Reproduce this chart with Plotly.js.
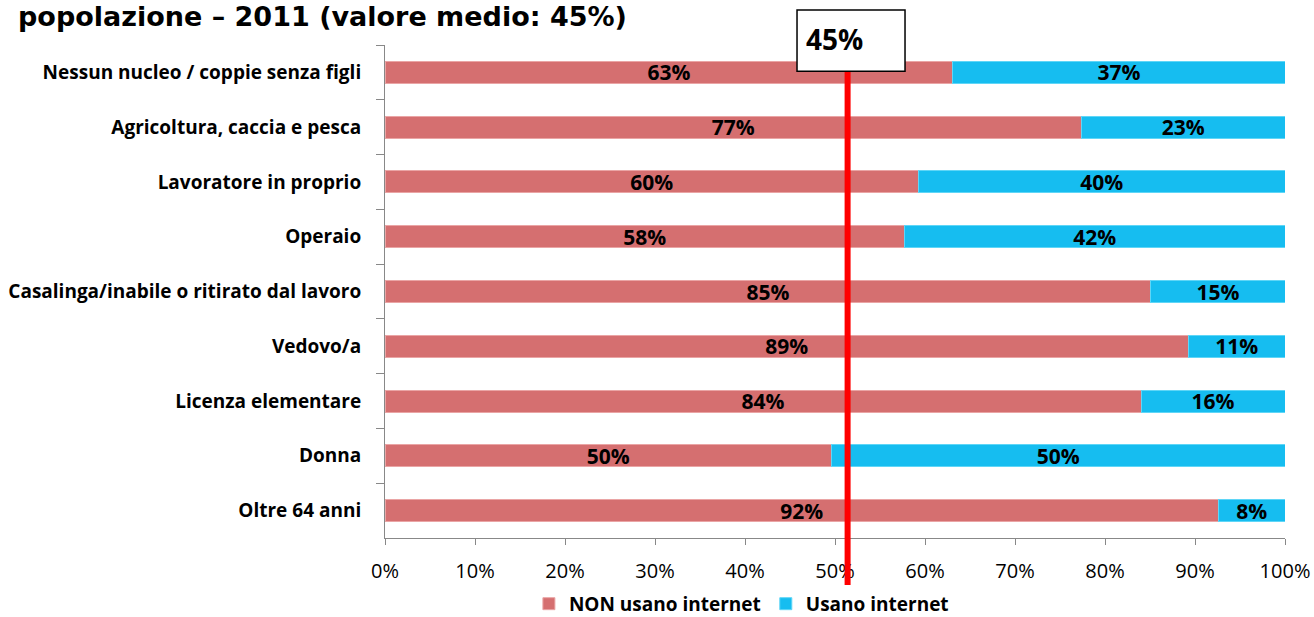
<!DOCTYPE html>
<html>
<head>
<meta charset="utf-8">
<script src="https://cdn.plot.ly/plotly-3.0.1.min.js"></script>
<style>html,body{margin:0;padding:0;background:#fff;}#chart{width:1314px;height:617px;}</style>
</head>
<body>
<div id="chart"></div>
<script>
const categories = [
  "Nessun nucleo / coppie senza figli",
  "Agricoltura, caccia e pesca",
  "Lavoratore in proprio",
  "Operaio",
  "Casalinga/inabile o ritirato dal lavoro",
  "Vedovo/a",
  "Licenza elementare",
  "Donna",
  "Oltre 64 anni"
];
const nonUsano = [63.1, 77.4, 59.3, 57.7, 85.1, 89.3, 84.0, 49.6, 92.6];
const usano    = [36.9, 22.6, 40.7, 42.3, 14.9, 10.7, 16.0, 50.4, 7.4];
const nonLabels = ["63%","77%","60%","58%","85%","89%","84%","50%","92%"];
const usLabels  = ["37%","23%","40%","42%","15%","11%","16%","50%","8%"];
const mediaLine = 51.4;
const mediaText = "45%";
const tickVals = [0,10,20,30,40,50,60,70,80,90,100];
const tickText = ["0%","10%","20%","30%","40%","50%","60%","70%","80%","90%","100%"];
const titleText = "popolazione – 2011 (valore medio: 45%)";

const FONT = "'Open Sans', Lato, sans-serif";
const labelFont = {family: FONT, size: 21, color: "#000", weight: 700};

const traces = [
  {
    type: "bar", orientation: "h", name: "NON usano internet",
    y: categories, x: nonUsano, text: nonLabels,
    textposition: "inside", insidetextanchor: "middle",
    textfont: labelFont, constraintext: "none",
    marker: {color: "#d56f70", line: {color: "#eaa5a5", width: 1}},
    width: 0.4, hoverinfo: "skip"
  },
  {
    type: "bar", orientation: "h", name: "Usano internet",
    y: categories, x: usano, text: usLabels,
    textposition: "inside", insidetextanchor: "middle",
    textfont: labelFont, constraintext: "none",
    marker: {color: "#16bdf0", line: {color: "#5fd6f7", width: 1}},
    width: 0.4, hoverinfo: "skip"
  }
];

const layout = {
  width: 1314, height: 617,
  margin: {l: 385, r: 29, t: 45, b: 79, autoexpand: false},
  barmode: "stack",
  paper_bgcolor: "#fff", plot_bgcolor: "#fff",
  showlegend: true,
  legend: {
    orientation: "h", x: 0.396, xanchor: "center", y: -0.095, yanchor: "top",
    font: {family: FONT, size: 19, color: "#000", weight: 700},
    traceorder: "normal", itemwidth: 30
  },
  xaxis: {
    range: [0, 100], tickvals: tickVals, ticktext: tickText,
    showgrid: false, zeroline: false,
    showline: true, linecolor: "#888", linewidth: 1,
    ticks: "outside", ticklen: 6, tickcolor: "#888",
    ticklabelstandoff: 9,
    tickfont: {family: FONT, size: 20, color: "#000"},
    fixedrange: true
  },
  yaxis: {
    type: "category", categoryorder: "array", categoryarray: categories,
    autorange: "reversed",
    showgrid: false, zeroline: false,
    showline: true, linecolor: "#888", linewidth: 1,
    ticks: "outside", ticklen: 8, tickcolor: "#888", tickson: "boundaries",
    ticklabelstandoff: 19,
    tickfont: {family: FONT, size: 19, color: "#000", weight: 700},
    fixedrange: true
  },
  shapes: [
    {type: "line", xref: "x", yref: "paper", x0: mediaLine, x1: mediaLine,
     y0: 0.949, y1: -0.132, line: {color: "#ff0000", width: 6}},
    {type: "rect", xref: "paper", yref: "paper", x0: 0.4578, x1: 0.5778,
     y0: 0.947, y1: 1.071, fillcolor: "#fff", line: {color: "#000", width: 1.5}}
  ],
  annotations: [
    {xref: "paper", yref: "paper", x: 0.466, y: 1.012, xanchor: "left", yanchor: "middle",
     text: mediaText, showarrow: false,
     font: {family: FONT, size: 28, color: "#000", weight: 700}},
    {xref: "paper", yref: "paper", x: -0.409, y: 1.0913, xanchor: "left", yanchor: "top",
     text: titleText, showarrow: false, borderpad: 0,
     font: {family: "'DejaVu Sans', sans-serif", size: 27, color: "#000", weight: 700}}
  ]
};

Plotly.newPlot("chart", traces, layout, {displayModeBar: false, staticPlot: true});
</script>
</body>
</html>
